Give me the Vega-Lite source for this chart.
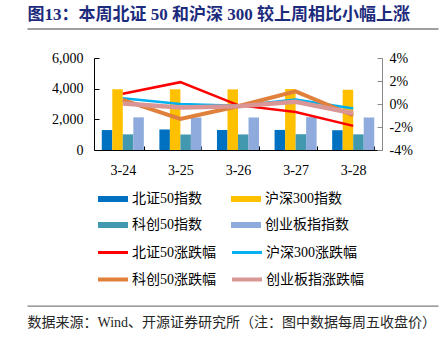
{
  "$schema": "https://vega.github.io/schema/vega-lite/v6.json",
  "width": 288,
  "height": 92,
  "autosize": {"type": "none"},
  "padding": {"left": 94, "top": 58, "right": 62, "bottom": 187},
  "background": "white",
  "config": {
    "view": {"stroke": null},
    "font": "Liberation Serif, Noto Sans CJK SC",
    "axis": {"grid": false, "labelFont": "Liberation Serif, Noto Sans CJK SC", "titleFont": "Liberation Serif, Noto Sans CJK SC"},
    "legend": {"labelFont": "Liberation Serif, Noto Sans CJK SC"}
  },
  "layer": [
    {
      "layer": [
        {
          "data": {"values": [
            {"date": "3-24", "series": "北证50指数", "value": 1300},
            {"date": "3-24", "series": "沪深300指数", "value": 3960},
            {"date": "3-24", "series": "科创50指数", "value": 1020},
            {"date": "3-24", "series": "创业板指指数", "value": 2130},
            {"date": "3-25", "series": "北证50指数", "value": 1340},
            {"date": "3-25", "series": "沪深300指数", "value": 3960},
            {"date": "3-25", "series": "科创50指数", "value": 1010},
            {"date": "3-25", "series": "创业板指指数", "value": 2120},
            {"date": "3-26", "series": "北证50指数", "value": 1310},
            {"date": "3-26", "series": "沪深300指数", "value": 3955},
            {"date": "3-26", "series": "科创50指数", "value": 1015},
            {"date": "3-26", "series": "创业板指指数", "value": 2120},
            {"date": "3-27", "series": "北证50指数", "value": 1310},
            {"date": "3-27", "series": "沪深300指数", "value": 3975},
            {"date": "3-27", "series": "科创50指数", "value": 1030},
            {"date": "3-27", "series": "创业板指指数", "value": 2140},
            {"date": "3-28", "series": "北证50指数", "value": 1290},
            {"date": "3-28", "series": "沪深300指数", "value": 3935},
            {"date": "3-28", "series": "科创50指数", "value": 1020},
            {"date": "3-28", "series": "创业板指指数", "value": 2120}
          ]},
          "mark": {"type": "bar"},
          "encoding": {
            "x": {
              "field": "date", "type": "nominal", "sort": null,
              "scale": {"paddingInner": 0.27, "paddingOuter": 0.135},
              "axis": {"orient": "bottom", "title": null, "labelAngle": 0, "tickBand": "extent", "tickSize": -4, "labelPadding": 17, "domainColor": "#000000", "tickColor": "#000000", "labelFontSize": 14, "labelColor": "#000000"}
            },
            "xOffset": {
              "field": "series", "type": "nominal",
              "sort": ["北证50指数", "沪深300指数", "科创50指数", "创业板指指数"],
              "scale": {"paddingInner": 0, "paddingOuter": 0}
            },
            "y": {
              "field": "value", "type": "quantitative",
              "scale": {"domain": [0, 6000]},
              "axis": {"orient": "left", "values": [0, 2000, 4000, 6000], "format": ",.0f", "title": null, "tickSize": -5, "labelPadding": 16, "domainColor": "#000000", "tickColor": "#000000", "labelFontSize": 14, "labelColor": "#000000"}
            },
            "color": {
              "field": "series", "type": "nominal",
              "scale": {"domain": ["北证50指数", "科创50指数", "沪深300指数", "创业板指指数"], "range": ["#0070C0", "#4198AF", "#FFC000", "#8FAADC"]},
              "legend": {"orient": "none", "legendX": -3, "legendY": 134, "columns": 2, "title": null, "padding": 0, "symbolType": "M0,-1H10V1H0Z", "symbolSize": 36, "symbolStrokeWidth": 0, "labelFontSize": 14, "labelColor": "#000000", "labelOffset": 27, "columnPadding": 22, "rowPadding": 12}
            }
          }
        },
        {
          "data": {"values": [
            {"date": "3-24", "series": "北证50涨跌幅", "pct": 0.9},
            {"date": "3-25", "series": "北证50涨跌幅", "pct": 1.9},
            {"date": "3-26", "series": "北证50涨跌幅", "pct": -0.1},
            {"date": "3-27", "series": "北证50涨跌幅", "pct": -0.7},
            {"date": "3-28", "series": "北证50涨跌幅", "pct": -1.9},
            {"date": "3-24", "series": "沪深300涨跌幅", "pct": 0.5},
            {"date": "3-25", "series": "沪深300涨跌幅", "pct": 0.0},
            {"date": "3-26", "series": "沪深300涨跌幅", "pct": -0.15},
            {"date": "3-27", "series": "沪深300涨跌幅", "pct": 0.4},
            {"date": "3-28", "series": "沪深300涨跌幅", "pct": -0.4},
            {"date": "3-24", "series": "科创50涨跌幅", "pct": 0.35},
            {"date": "3-25", "series": "科创50涨跌幅", "pct": -1.3},
            {"date": "3-26", "series": "科创50涨跌幅", "pct": -0.2},
            {"date": "3-27", "series": "科创50涨跌幅", "pct": 1.1},
            {"date": "3-28", "series": "科创50涨跌幅", "pct": -1.0},
            {"date": "3-24", "series": "创业板指涨跌幅", "pct": 0.05},
            {"date": "3-25", "series": "创业板指涨跌幅", "pct": -0.3},
            {"date": "3-26", "series": "创业板指涨跌幅", "pct": -0.2},
            {"date": "3-27", "series": "创业板指涨跌幅", "pct": 0.2},
            {"date": "3-28", "series": "创业板指涨跌幅", "pct": -0.8}
          ]},
          "mark": {"type": "line"},
          "encoding": {
            "x": {"field": "date", "type": "nominal", "sort": null},
            "y": {
              "field": "pct", "type": "quantitative",
              "scale": {"domain": [-4, 4]},
              "axis": {"orient": "right", "values": [-4, -2, 0, 2, 4], "labelExpr": "datum.value + '%'", "title": null, "tickSize": -5, "labelPadding": 12, "domainColor": "#888888", "tickColor": "#888888", "labelFontSize": 14, "labelColor": "#000000"}
            },
            "stroke": {
              "field": "series", "type": "nominal",
              "scale": {"domain": ["北证50涨跌幅", "科创50涨跌幅", "沪深300涨跌幅", "创业板指涨跌幅"], "range": ["#FF0000", "#E0803A", "#00B0F0", "#D99694"]},
              "legend": {"orient": "none", "legendX": -3, "legendY": 187.5, "columns": 2, "title": null, "padding": 0, "symbolType": "M0,0H10", "symbolSize": 36, "symbolStrokeWidth": 3, "symbolFillColor": "transparent", "labelFontSize": 14, "labelColor": "#000000", "labelOffset": 27, "columnPadding": 8, "rowPadding": 12,
                "encode": {"symbols": {"update": {"strokeWidth": {"signal": "datum.value === '科创50涨跌幅' || datum.value === '创业板指涨跌幅' ? 4 : 3"}}}}}
            },
            "strokeWidth": {
              "field": "series", "type": "nominal",
              "scale": {"type": "ordinal", "domain": ["北证50涨跌幅", "沪深300涨跌幅", "科创50涨跌幅", "创业板指涨跌幅"], "range": [2.5, 2.5, 4, 4.5]},
              "legend": null
            }
          }
        }
      ],
      "resolve": {"scale": {"y": "independent"}}
    },
    {
      "data": {"values": [{"d": 0}]},
      "mark": {"type": "rule", "opacity": 0},
      "encoding": {
        "x": {
          "field": "d", "type": "quantitative",
          "scale": {"domain": [0, 1], "range": [-67, 344]},
          "axis": {"orient": "top", "offset": 29.5, "domainColor": "#7F7F7F", "domainWidth": 1.3, "ticks": false, "labels": false, "grid": false,
            "title": "图13：本周北证 50 和沪深 300 较上周相比小幅上涨", "titleX": -67, "titleY": -9, "titleAlign": "left", "titleAnchor": "start", "titleBaseline": "alphabetic", "titleFontSize": 17, "titleFontWeight": "bold", "titleColor": "#1D2B7D"}
        }
      }
    },
    {
      "data": {"values": [{"d": 0}]},
      "mark": {"type": "rule", "opacity": 0},
      "encoding": {
        "x": {
          "field": "d", "type": "quantitative",
          "scale": {"domain": [0, 1], "range": [-67, 344]},
          "axis": {"orient": "bottom", "offset": 155.7, "domainColor": "#7F7F7F", "domainWidth": 1.3, "ticks": false, "labels": false, "grid": false,
            "title": "数据来源：Wind、开源证券研究所（注：图中数据每周五收盘价）", "titleX": -67, "titleY": 21, "titleAlign": "left", "titleAnchor": "start", "titleBaseline": "alphabetic", "titleFontSize": 14, "titleFontWeight": "normal", "titleColor": "#262626"}
        }
      }
    }
  ],
  "resolve": {"scale": {"x": "independent", "y": "independent"}}
}
